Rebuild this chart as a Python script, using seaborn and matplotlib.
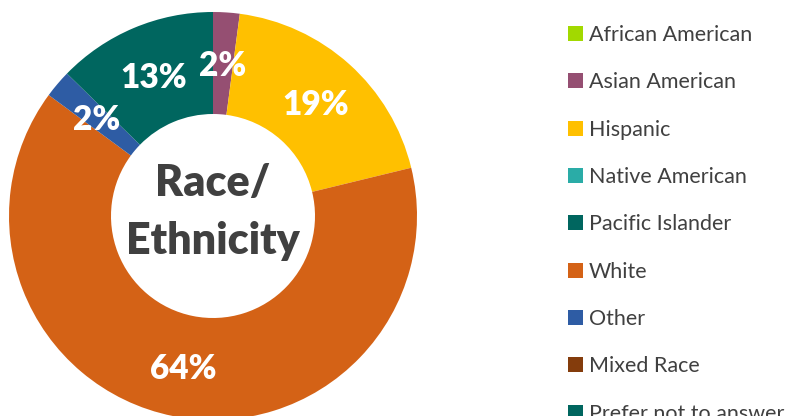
import matplotlib
matplotlib.use("Agg")
import matplotlib.pyplot as plt
import seaborn as sns

categories = ["African American", "Asian American", "Hispanic", "Native American",
              "Pacific Islander", "White", "Other", "Mixed Race", "Prefer not to answer"]
values = [0, 2.1, 19.1, 0, 0, 63.9, 2.2, 0, 12.7]
colors = ["#A2D900", "#954F72", "#FFC000", "#2AACA7", "#00665F",
          "#D46216", "#2E5CA4", "#843C0C", "#00665F"]
center_text = "Race/\nEthnicity"

sns.set_theme(style="white")
plt.rcParams["font.family"] = ["Lato", "DejaVu Sans"]

W, H = 791, 416
fig = plt.figure(figsize=(W / 100, H / 100), dpi=100)
cx, cy, R = 213, 216, 204
ax = fig.add_axes([(cx - R) / W, (H - cy - R) / H, 2 * R / W, 2 * R / H])

palette = sns.color_palette(colors)


def pct(p):
    return f"{p:.0f}%" if p >= 1 else ""


wedges, texts, autotexts = ax.pie(
    values, colors=palette, startangle=90, counterclock=False, radius=1,
    autopct=pct, pctdistance=0.75,
    wedgeprops=dict(width=0.5, linewidth=0),
    textprops=dict(color="white", fontsize=24, fontweight="heavy"))
for t in autotexts:
    t.set_va("center_baseline")
ax.set_xlim(-1, 1)
ax.set_ylim(-1, 1)
ax.set_aspect("equal")
ax.axis("off")

ax.text(0, 0.02, center_text, ha="center", va="center", fontsize=31,
        fontweight="heavy", color="#404040", linespacing=1.55)

leg = fig.legend(wedges, categories, loc="upper left",
                 bbox_to_anchor=(568 / W, 1 - 25 / H), frameon=False,
                 fontsize=15.5, handlelength=0.68, handleheight=0.68,
                 handletextpad=0.3, labelspacing=1.27, borderpad=0,
                 borderaxespad=0)
for t in leg.get_texts():
    t.set_color("#404040")

fig.savefig("out.png", dpi=100)
